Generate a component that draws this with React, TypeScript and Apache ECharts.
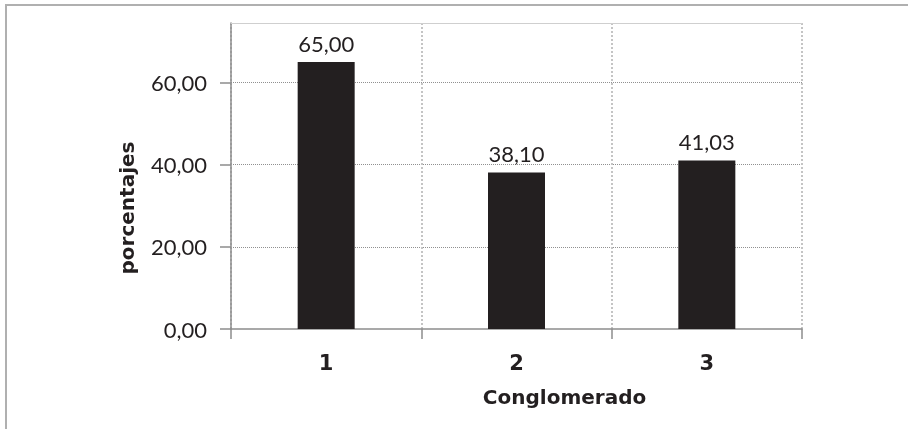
import React, { useEffect, useRef } from "react";
import * as echarts from "echarts";

const categories = ["1", "2", "3"];
const values = [65.0, 38.1, 41.03];
const yTickValues = [0, 20, 40, 60];
const yMax = 74.5;
const xTitle = "Conglomerado";
const yTitle = "porcentajes";

const fmt = (v: number) => v.toFixed(2).replace(".", ",");

const INK = "#231f20";
const AXIS = "#8c8c8c";

export default function App() {
  const ref = useRef<HTMLDivElement>(null);
  useEffect(() => {
    if (!ref.current) return;
    const chart = echarts.init(ref.current, null, { renderer: "svg" });
    chart.setOption({
      animation: false,
      grid: { left: 231, right: 106, top: 23, bottom: 100, containLabel: false },
      xAxis: [
        {
          type: "category",
          data: categories,
          position: "bottom",
          axisLine: { show: true, lineStyle: { color: AXIS, width: 1.5 } },
          axisTick: { show: true, length: 10, lineStyle: { color: AXIS, width: 1.5 } },
          axisLabel: {
            margin: 23,
            fontFamily: "DejaVu Sans",
            fontWeight: "bold",
            fontSize: 21,
            color: INK,
          },
          splitLine: { show: true, lineStyle: { color: "#c4c4c4", width: 2, type: [2, 2] } },
          name: xTitle,
          nameLocation: "middle",
          nameGap: 58,
          nameTextStyle: {
            fontFamily: "DejaVu Sans",
            fontWeight: "bold",
            fontSize: 20,
            color: INK,
            padding: [0, 0, 0, 96],
          },
        },
        {
          type: "category",
          data: categories,
          position: "top",
          axisLine: { show: true, lineStyle: { color: "#cfcfcf", width: 1 } },
          axisTick: { show: false },
          axisLabel: { show: false },
          splitLine: { show: false },
        },
      ],
      yAxis: {
        type: "value",
        min: 0,
        max: yMax,
        interval: 20,
        axisLine: { show: true, lineStyle: { color: AXIS, width: 1.5 } },
        axisTick: { show: true, length: 11, customValues: yTickValues, lineStyle: { color: AXIS, width: 1.5 } },
        axisLabel: {
          customValues: yTickValues,
          margin: 24,
          fontFamily: "Lato",
          fontSize: 22,
          color: INK,
          formatter: (v: number) => fmt(v),
        },
        splitLine: {
          show: true,
          showMinLine: false,
          lineStyle: { color: "#909090", width: 1, type: [1, 1] },
        },
        name: yTitle,
        nameLocation: "middle",
        nameGap: 94,
        nameTextStyle: {
          fontFamily: "DejaVu Sans",
          fontWeight: "bold",
          fontSize: 20,
          color: INK,
          padding: [0, 64, 0, 0],
        },
      },
      series: [
        {
          type: "bar",
          data: values,
          barWidth: 57,
          itemStyle: { color: INK },
          label: {
            show: true,
            position: "top",
            distance: 8,
            fontFamily: "Lato",
            fontSize: 22,
            color: INK,
            formatter: (p: any) => fmt(p.value),
          },
        },
      ],
    });
    return () => chart.dispose();
  }, []);

  return (
    <>
      <div
        style={{
          position: "fixed",
          left: 5,
          top: 4,
          right: 0,
          bottom: 0,
          borderTop: "2px solid #b0b0b0",
          borderLeft: "2px solid #b0b0b0",
        }}
      />
      <div
        ref={ref}
        style={{ position: "fixed", left: 0, top: 0, width: 908, height: 429 }}
      />
    </>
  );
}
